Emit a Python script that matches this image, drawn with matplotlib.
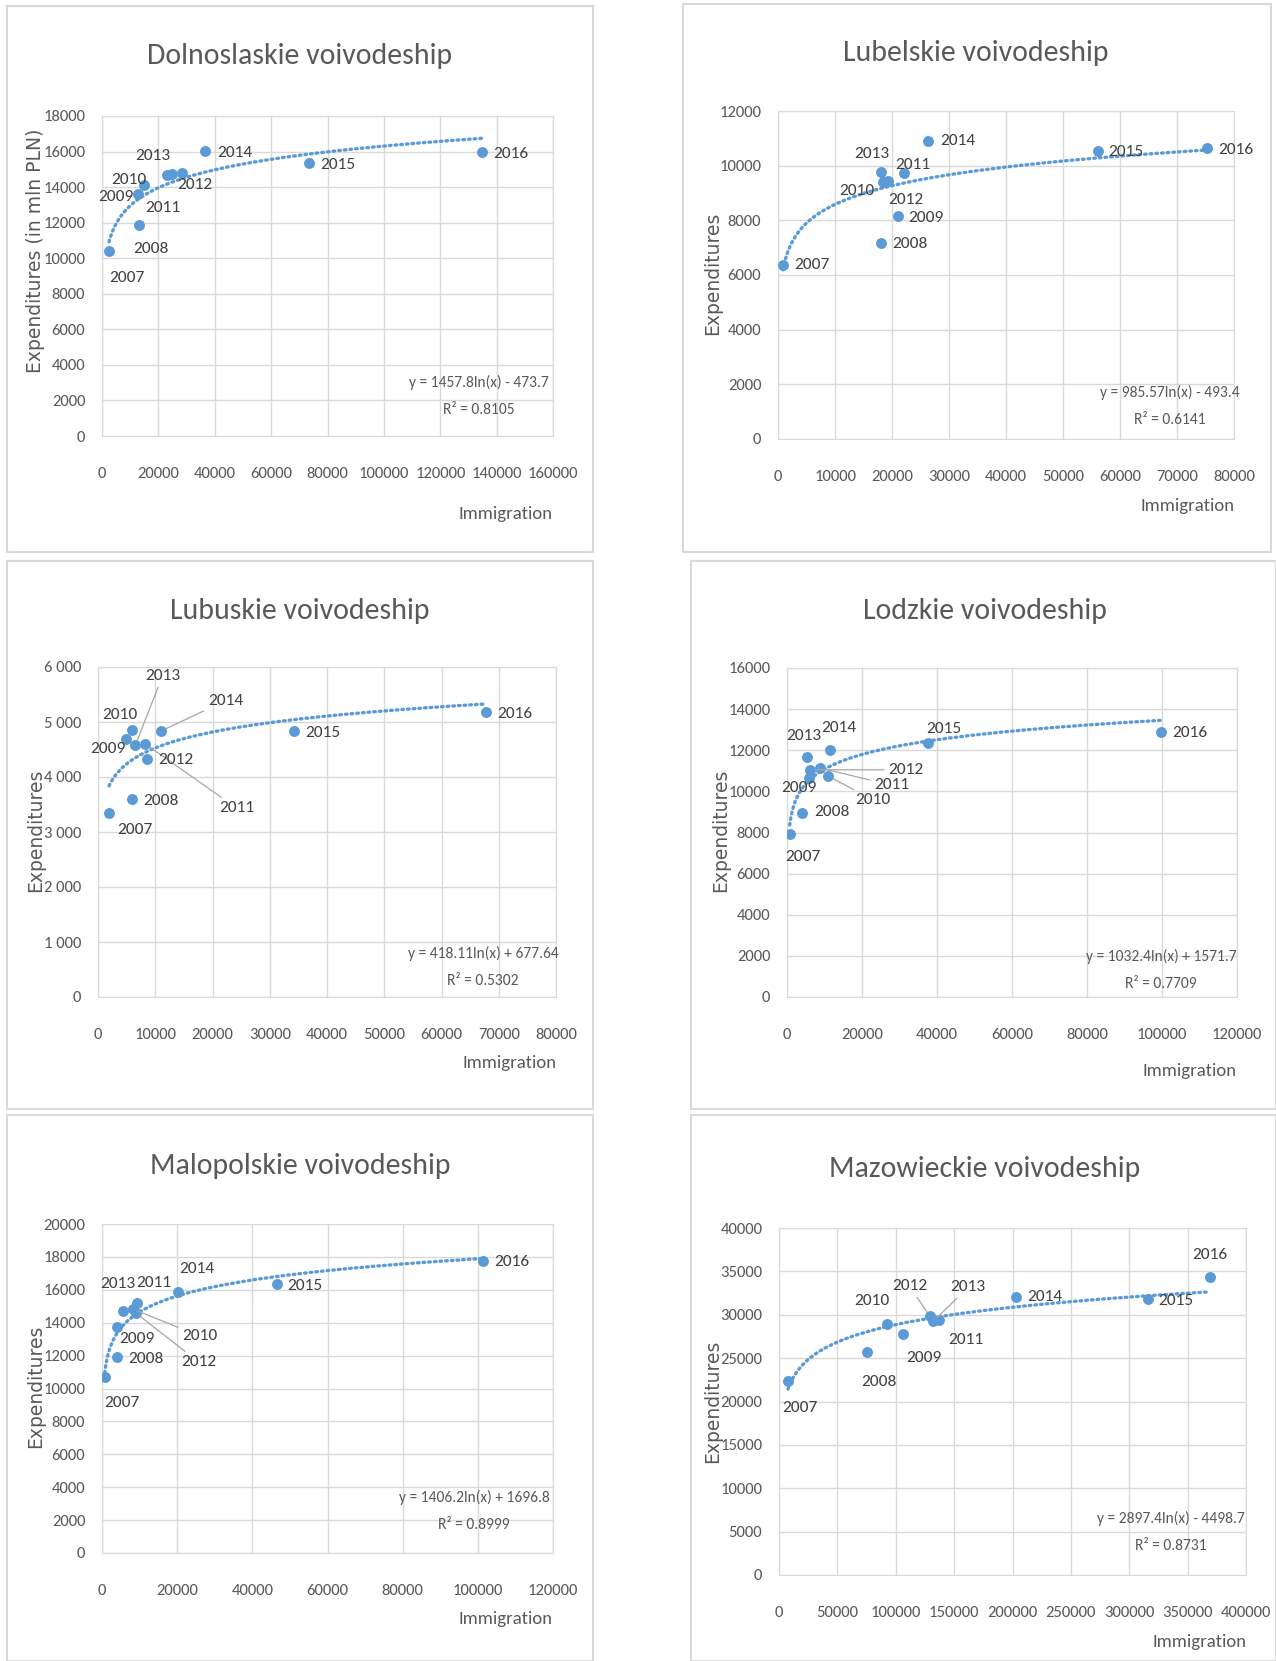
import matplotlib
matplotlib.use('Agg')
import matplotlib.pyplot as plt
import numpy as np
from matplotlib.patches import Rectangle
from matplotlib.ticker import FuncFormatter

W, H = 1276, 1661
NARROW = ['Carlito', 'DejaVu Sans']
BLUE = '#5b9bd5'
GREY = '#595959'

years = ['2007', '2008', '2009', '2010', '2011', '2012', '2013', '2014', '2015', '2016']

# immigration (x) and expenditures (y), one pair of lists per voivodeship
dolno_imm = [2490, 13140, 12790, 14920, 23230, 28420, 24860, 36480, 73280, 134980]
dolno_exp = [10400, 11860, 13640, 14110, 14670, 14800, 14760, 16030, 15330, 15980]

lubel_imm = [880, 18150, 21070, 18430, 22070, 19310, 18150, 26400, 56180, 75260]
lubel_exp = [6370, 7160, 8160, 9420, 9720, 9450, 9780, 10910, 10540, 10660]

lubus_imm = [1920, 6010, 4960, 5940, 8290, 8570, 6540, 11080, 34210, 67770]
lubus_exp = [3340, 3600, 4690, 4860, 4600, 4320, 4580, 4840, 4840, 5180]

lodz_imm = [720, 4110, 5870, 10930, 8910, 6050, 5440, 11390, 37710, 99660]
lodz_exp = [7930, 8960, 10640, 10750, 11130, 11050, 11690, 11990, 12350, 12910]

malo_imm = [720, 4100, 4100, 8180, 9320, 8980, 5590, 20090, 46460, 101500]
malo_exp = [10710, 11900, 13750, 14830, 15180, 14590, 14730, 15880, 16330, 17770]

mazo_imm = [7710, 75770, 106600, 92310, 137100, 129200, 132000, 202900, 316300, 369200]
mazo_exp = [22390, 25700, 27780, 28970, 29430, 29810, 29230, 32050, 31850, 34350]

# logarithmic trend lines as printed on the charts: y = a*ln(x) + b
trend_a = [1457.8, 985.57, 418.11, 1032.4, 1406.2, 2897.4]
trend_b = [-473.7, -493.4, 677.64, 1571.7, 1696.8, -4498.7]
r2 = ['0.8105', '0.6141', '0.5302', '0.7709', '0.8999', '0.8731']

titles = ['Dolnoslaskie voivodeship', 'Lubelskie voivodeship', 'Lubuskie voivodeship',
          'Lodzkie voivodeship', 'Malopolskie voivodeship', 'Mazowieckie voivodeship']
ylabels = ['Expenditures (in mln PLN)'] + ['Expenditures'] * 5

x_max = [160000, 80000, 80000, 120000, 120000, 400000]
x_step = [20000, 10000, 10000, 20000, 20000, 50000]
y_max = [18000, 12000, 6000, 16000, 20000, 40000]
y_step = [2000, 2000, 1000, 2000, 2000, 5000]

series = [(dolno_imm, dolno_exp), (lubel_imm, lubel_exp), (lubus_imm, lubus_exp),
          (lodz_imm, lodz_exp), (malo_imm, malo_exp), (mazo_imm, mazo_exp)]

# ---- layout (pixels in the 1276x1661 canvas) ----
frames = [(7, 6, 593, 552), (683, 4, 1271, 552), (7, 561, 593, 1109),
          (691, 561, 1276, 1109), (7, 1115, 593, 1661), (691, 1115, 1276, 1661)]
plot_boxes = [(102, 116, 553, 436), (778, 111, 1234, 439), (98, 667, 556, 997),
              (787, 668, 1237, 997), (102, 1224, 553, 1553), (779, 1228, 1246, 1575)]
title_pos = [(300, 56), (976, 53), (300, 611), (985, 611), (300, 1166), (985, 1169)]
eq_pos = [(479, 382), (1170, 392), (483, 953), (1161, 956), (474, 1497), (1171, 1518)]
xlab_off = [78, 67, 66, 74, 66, 67]
ylab_pos = [(36, 251), (713, 273), (36, 830), (721, 830), (36, 1386), (713, 1401)]

# label offsets in pixels (dx right, dy down) per year
label_off = [
    [(18, 27), (12, 24), (-22, 3), (-15, -5), (-5, 33), (13, 12), (-19, -18), (30, 2), (29, 2), (28, 2)],
    [(29, 0), (28, 1), (28, 2), (-26, 9), (9, -8), (18, 19), (-10, -18), (29, 0), (28, 1), (29, 2)],
    [(26, 17), (29, 2), (-18, 10), (-12, -15), (91, 64), (29, 1), (27, -69), (64, -30), (29, 2), (29, 2)],
    [(13, 23), (30, -1), (-10, 10), (45, 24), (71, 17), (96, 0), (-4, -21), (9, -22), (15, -14), (29, 1)],
    [(17, 26), (29, 2), (20, 12), (67, 27), (17, -20), (63, 49), (-5, -27), (19, -23), (28, 2), (28, 1)],
    [(12, 27), (11, 30), (20, 24), (-15, -23), (27, 20), (-20, -30), (35, -34), (29, 0), (28, 2), (0, -22)],
]
leaders = [[], [], ['2011', '2013', '2014'], ['2010', '2011', '2012'], ['2010', '2012'], ['2012', '2013']]

fig = plt.figure(figsize=(W / 100, H / 100), dpi=100)
fig.patch.set_facecolor('white')


def fx(px):
    return px / W


def fy(py):
    return 1 - py / H


for fl, ft, fr, fb in frames:
    fig.patches.append(Rectangle((fx(fl), fy(fb)), fx(fr - fl), (fb - ft) / H,
                                 transform=fig.transFigure, fill=False,
                                 edgecolor='#d9d9d9', linewidth=1.5))

space_fmt = FuncFormatter(lambda v, p: f'{int(v):,}'.replace(',', ' '))

for i in range(6):
    l, t, r, b = plot_boxes[i]
    ax = fig.add_axes([fx(l), fy(b), fx(r - l), (b - t) / H])
    xs, ys = series[i]

    ax.set_xlim(0, x_max[i])
    ax.set_ylim(0, y_max[i])
    ax.set_xticks(np.arange(0, x_max[i] + 1, x_step[i]))
    ax.set_yticks(np.arange(0, y_max[i] + 1, y_step[i]))
    if i == 2:
        ax.yaxis.set_major_formatter(space_fmt)
    ax.grid(True, color='#d9d9d9', linewidth=1)
    ax.set_axisbelow(True)
    for sp in ax.spines.values():
        sp.set_color('#d9d9d9')
    ax.tick_params(length=0, labelsize=12, labelcolor=GREY)
    ax.tick_params(axis='x', pad=22)
    ax.tick_params(axis='y', pad=12)
    for lab in ax.get_xticklabels() + ax.get_yticklabels():
        lab.set_family(NARROW)

    # trend line
    tx = np.linspace(min(xs), max(xs), 300)
    ax.plot(tx, trend_a[i] * np.log(tx) + trend_b[i], color=BLUE, linewidth=2.4,
            linestyle=(0, (0.5, 1.2)), dash_capstyle='round', zorder=2)

    ax.scatter(xs, ys, s=62, color=BLUE, zorder=3, linewidths=0)

    for k, yr in enumerate(years):
        dx, dy = label_off[i][k]
        props = None
        if yr in leaders[i]:
            props = dict(arrowstyle='-', color='#a6a6a6', linewidth=0.9,
                         shrinkA=1, shrinkB=4)
        ax.annotate(yr, (xs[k], ys[k]), xytext=(dx, -dy), textcoords='offset pixels',
                    ha='center', va='center', fontsize=12.5, color='#404040',
                    family=NARROW, arrowprops=props, zorder=4)

    # axis labels
    ax.set_xlabel('Immigration', fontsize=13.5, color=GREY, family=NARROW)
    ax.xaxis.set_label_coords(1.0, -xlab_off[i] / (b - t))
    ax.xaxis.label.set_ha('right')
    ax.xaxis.label.set_va('center')
    yx, yy = ylab_pos[i]
    ax.set_ylabel(ylabels[i], fontsize=13.5, color=GREY, family='DejaVu Sans')
    ax.yaxis.set_label_coords((yx - l) / (r - l), (b - yy) / (b - t))
    ax.yaxis.label.set_va('center')

    # title
    tx_, ty_ = title_pos[i]
    fig.text(fx(tx_), fy(ty_), titles[i], ha='center', va='center', fontsize=21.5,
             color=GREY, family=NARROW)

    # trend equation
    sign = '+' if trend_b[i] >= 0 else '-'
    eq = f'y = {trend_a[i]:g}ln(x) {sign} {abs(trend_b[i]):g}'
    ex, ey = eq_pos[i]
    fig.text(fx(ex), fy(ey), eq, ha='center', va='center', fontsize=11.2,
             color=GREY, family=NARROW)
    fig.text(fx(ex), fy(ey + 28), f'R\u00b2 = {r2[i]}', ha='center', va='center',
             fontsize=11.2, color=GREY, family=NARROW)

fig.savefig('out.png', dpi=100, facecolor='white')
